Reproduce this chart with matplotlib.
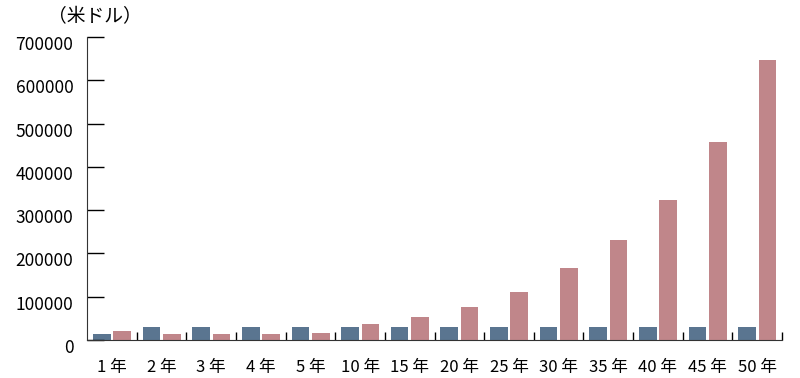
import matplotlib.pyplot as plt
import matplotlib.transforms as mtransforms
import numpy as np

plt.rcParams['font.family'] = ['Noto Sans CJK JP', 'DejaVu Sans']

years = ["1 年", "2 年", "3 年", "4 年", "5 年", "10 年", "15 年", "20 年",
         "25 年", "30 年", "35 年", "40 年", "45 年", "50 年"]
blue_vals = [15000, 30000, 30000, 30000, 30000, 30000, 30000, 30000,
             30000, 30000, 30000, 30000, 30000, 30000]
pink_vals = [20000, 14000, 13000, 15000, 16000, 37000, 53000, 76000,
             111000, 166000, 231000, 323000, 457000, 648000]

fig = plt.figure(figsize=(8, 3.78), dpi=100)
ax = fig.add_axes([0.109, 0.1005, 0.8685, 0.8015])

x = np.arange(len(years))
ax.bar(x - 0.205, blue_vals, width=0.355, color='#5a7590')
ax.bar(x + 0.205, pink_vals, width=0.355, color='#c0868a')

ax.set_xlim(-0.5, len(years) - 0.5)
ax.set_ylim(0, 700000)
ax.set_yticks(range(0, 700001, 100000))
ax.tick_params(axis='y', direction='in', length=12.5, width=1, labelsize=12.5, pad=10)
ax.set_xticks(x)
ax.set_xticklabels(years)
ax.tick_params(axis='x', length=0, labelsize=12, pad=14)
ax.set_xticks(np.arange(0.5, len(years), 1), minor=True)
ax.tick_params(axis='x', which='minor', direction='in', length=6, width=1)

# y labels sit a little below their ticks in the original
shift = mtransforms.ScaledTranslation(0, -0.06, fig.dpi_scale_trans)
for lab in ax.get_yticklabels():
    lab.set_transform(lab.get_transform() + shift)

for s in ['top', 'right']:
    ax.spines[s].set_visible(False)
ax.spines['left'].set_color('#333333')
ax.spines['bottom'].set_color('#333333')

fig.text(0.06, 0.955, "（米ドル）", fontsize=13.5, va='center')

fig.savefig('out.png')
